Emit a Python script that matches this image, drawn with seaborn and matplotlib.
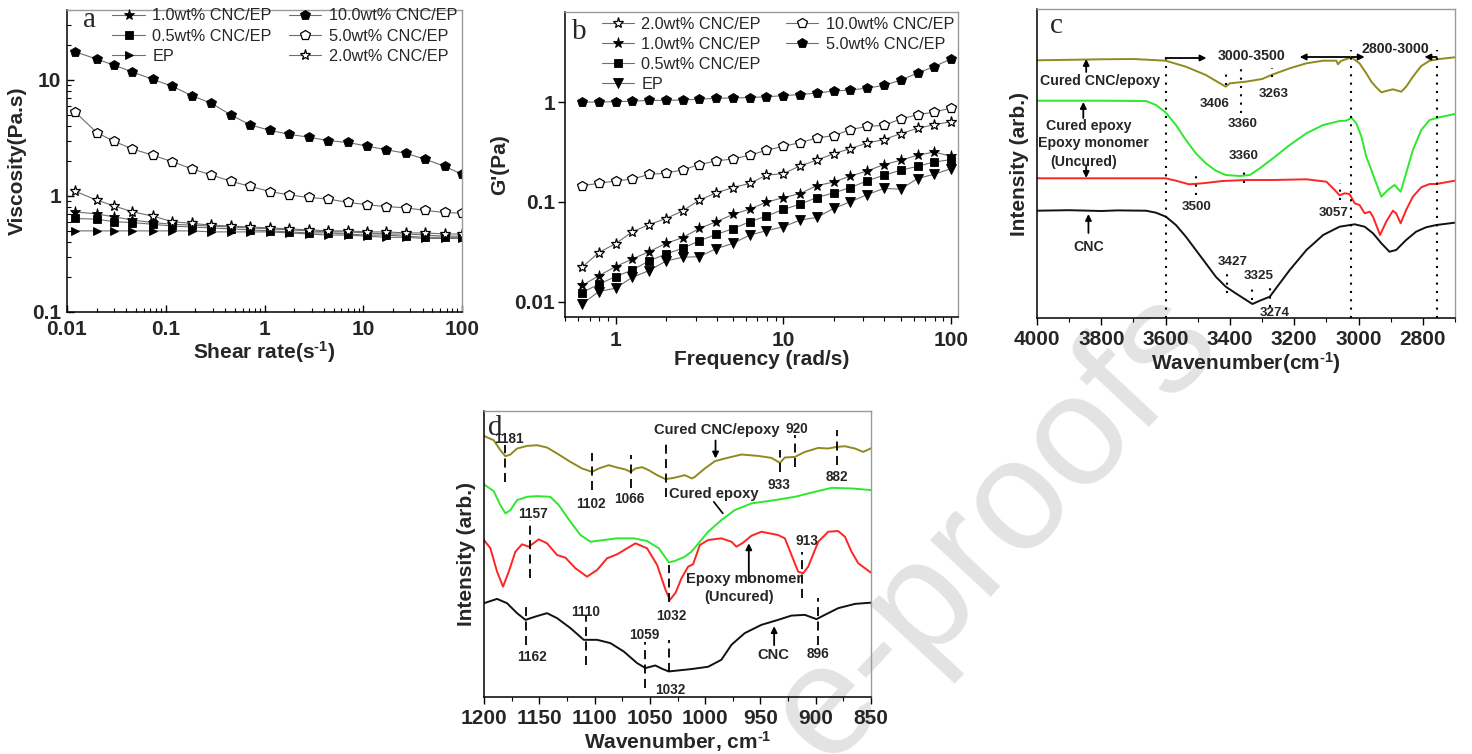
import numpy as np
import pandas as pd
import matplotlib
matplotlib.use("Agg")
import matplotlib.pyplot as plt
import seaborn as sns
from matplotlib.ticker import FixedLocator, NullFormatter, LogLocator, MultipleLocator, FixedFormatter

sns.set_theme(style="ticks")
plt.rcParams["font.family"] = ["Liberation Sans", "DejaVu Sans"]
plt.rcParams["mathtext.fontset"] = "custom"
plt.rcParams["mathtext.bf"] = "Liberation Sans:bold"
plt.rcParams["mathtext.rm"] = "Liberation Sans:bold"
plt.rcParams["mathtext.default"] = "bf"
plt.rcParams["axes.unicode_minus"] = False

# ---------------- Panel a: viscosity vs shear rate ----------------
shear_rate = [0.012, 0.02, 0.03, 0.046, 0.074, 0.117, 0.184, 0.289, 0.454, 0.713, 1.14,
              1.79, 2.81, 4.44, 6.98, 10.9, 17.1, 27.0, 42.5, 66.7, 100]
visc_10 = [17.5, 15.1, 13.4, 11.7, 10.1, 8.8, 7.3, 6.3, 5.0, 4.1, 3.67, 3.39, 3.21, 2.99,
           2.89, 2.69, 2.50, 2.33, 2.07, 1.80, 1.54]
visc_5 = [5.31, 3.52, 2.95, 2.54, 2.24, 1.97, 1.71, 1.52, 1.34, 1.21, 1.09, 1.02, 0.97,
          0.94, 0.88, 0.84, 0.81, 0.79, 0.75, 0.72, 0.71]
visc_2 = [1.10, 0.92, 0.82, 0.73, 0.67, 0.60, 0.58, 0.56, 0.55, 0.54, 0.53, 0.52, 0.51,
          0.50, 0.50, 0.49, 0.49, 0.48, 0.48, 0.47, 0.47]
visc_1 = [0.73, 0.70, 0.66, 0.62, 0.59, 0.57, 0.56, 0.55, 0.54, 0.53, 0.52, 0.51, 0.50,
          0.49, 0.49, 0.48, 0.47, 0.47, 0.46, 0.45, 0.45]
visc_05 = [0.64, 0.63, 0.60, 0.59, 0.57, 0.55, 0.54, 0.53, 0.52, 0.51, 0.50, 0.49, 0.48,
           0.48, 0.47, 0.46, 0.46, 0.45, 0.44, 0.44, 0.44]
visc_ep = [0.50, 0.50, 0.50, 0.50, 0.50, 0.50, 0.50, 0.49, 0.49, 0.49, 0.49, 0.48, 0.47,
           0.46, 0.46, 0.45, 0.44, 0.44, 0.43, 0.43, 0.43]

# ---------------- Panel b: G' vs frequency ----------------
freq = [0.631, 0.794, 1.0, 1.26, 1.58, 2.0, 2.51, 3.16, 3.98, 5.01, 6.31, 7.94, 10.0, 12.6,
        15.8, 20.0, 25.1, 31.6, 39.8, 50.1, 63.1, 79.4, 100.0]
g_5 = [1.0, 1.0, 1.01, 1.02, 1.04, 1.04, 1.05, 1.07, 1.09, 1.10, 1.11, 1.13, 1.16, 1.19,
       1.23, 1.29, 1.32, 1.38, 1.47, 1.66, 1.95, 2.27, 2.71]
g_10 = [0.145, 0.153, 0.162, 0.169, 0.188, 0.194, 0.209, 0.236, 0.257, 0.269, 0.293, 0.329,
        0.360, 0.392, 0.436, 0.461, 0.529, 0.571, 0.584, 0.676, 0.747, 0.794, 0.871]
g_2 = [0.022, 0.031, 0.038, 0.050, 0.059, 0.068, 0.081, 0.104, 0.123, 0.139, 0.153, 0.185,
       0.192, 0.229, 0.261, 0.304, 0.341, 0.389, 0.420, 0.483, 0.545, 0.593, 0.636]
g_1 = [0.0145, 0.0181, 0.0224, 0.0267, 0.0316, 0.0383, 0.0437, 0.0541, 0.0631, 0.0747,
       0.0845, 0.0993, 0.110, 0.121, 0.145, 0.158, 0.181, 0.204, 0.236, 0.261, 0.293, 0.316, 0.286]
g_05 = [0.0123, 0.0149, 0.0178, 0.0207, 0.0255, 0.030, 0.0341, 0.0407, 0.0471, 0.0537,
        0.0631, 0.0719, 0.0838, 0.0948, 0.110, 0.123, 0.139, 0.162, 0.185, 0.207, 0.227, 0.251, 0.265]
g_ep = [0.0094, 0.0126, 0.0136, 0.0175, 0.0204, 0.0255, 0.0278, 0.0282, 0.0339, 0.0383,
        0.0464, 0.0513, 0.0562, 0.0656, 0.0697, 0.0858, 0.100, 0.118, 0.136, 0.134, 0.171, 0.189, 0.215]

# ---------------- Panel c: FTIR 4000-2700 (arb. intensity) ----------------
c_olive_wn = [4000, 3800, 3700, 3600, 3537, 3475, 3413, 3400, 3351, 3300, 3271, 3214, 3162,
              3111, 3069, 3064, 3055, 3022, 2997, 2976, 2960, 2945, 2929, 2914, 2893, 2867,
              2852, 2831, 2805, 2779, 2748, 2701]
c_olive_i = [257.7, 258.7, 259, 257.3, 251.3, 243, 231.3, 234.7, 236.3, 239, 243, 249.7, 254.7,
             257.3, 257.3, 253.7, 257, 260.7, 254.7, 244.7, 236.3, 230.7, 225.7, 227, 228.7,
             226.3, 231.3, 241.3, 252, 257.3, 259, 260.7]
c_green_wn = [4000, 3800, 3661, 3630, 3599, 3568, 3537, 3506, 3475, 3444, 3413, 3369, 3338,
              3307, 3266, 3214, 3162, 3110, 3059, 3038, 3022, 3007, 2991, 2976, 2960, 2945,
              2929, 2909, 2888, 2869, 2852, 2831, 2805, 2779, 2748, 2701]
c_green_i = [217.3, 217.3, 217, 213, 205.3, 193, 178, 164.7, 154.7, 147.3, 143, 142, 143, 149.7,
             159.7, 173, 184.7, 193, 197, 197.3, 200.3, 194.7, 181.3, 161.3, 148, 134.7, 121.3,
             128, 133, 126.3, 144.7, 168, 188, 198, 200.7, 204]
c_red_wn = [4000, 3800, 3600, 3568, 3527, 3485, 3423, 3351, 3266, 3162, 3100, 3074, 3059, 3043,
            3028, 3012, 2997, 2981, 2965, 2955, 2945, 2933, 2914, 2893, 2883, 2869, 2852, 2831,
            2805, 2779, 2758, 2701]
c_red_i = [139.7, 139.7, 139.7, 137.3, 133.7, 134.7, 137, 138, 138, 138.7, 136.3, 128, 122.7,
           124.7, 124, 114.7, 113, 104.7, 106.3, 101.3, 93, 83, 96.3, 107.3, 104.7, 94.7, 108,
           121.3, 130.7, 134, 134, 137.3]
c_black_wn = [4000, 3900, 3800, 3750, 3661, 3630, 3599, 3568, 3537, 3506, 3475, 3444, 3413,
              3382, 3369, 3330, 3307, 3276, 3245, 3214, 3162, 3110, 3059, 3012, 2981, 2955,
              2929, 2904, 2883, 2852, 2821, 2790, 2758, 2701]
c_black_i = [107.3, 107.8, 107.0, 107.6, 107.3, 105.3, 101.3, 93, 81.3, 68, 54.7, 41.3, 31.3,
             24.7, 22, 14, 17.3, 21.3, 34.7, 48, 68, 83, 91.3, 93.7, 91.3, 84.7, 74.7, 66.3,
             68, 78, 86.3, 90.7, 93, 95.3]

# ---------------- Panel d: FTIR 1200-850 (arb. intensity) ----------------
d_olive_wn = [1200, 1191.2, 1185.2, 1180.6, 1176.1, 1170.1, 1161.1, 1152, 1143, 1133.9, 1121.8,
              1111.3, 1102.3, 1096.2, 1087.2, 1079.6, 1072.1, 1067.5, 1063, 1057, 1051, 1043.4,
              1035.8, 1028.3, 1018.4, 1012.0, 1009.3, 1000.3, 991.2, 982.2, 967.1, 952, 940,
              932.4, 927.9, 918.9, 909.8, 897.7, 888.7, 881.1, 873.6, 864.5, 857, 849.3]
d_olive_i = [261.6, 257.3, 247.3, 241.3, 243, 249, 251.6, 252.3, 250, 244, 235.6, 229, 225.6,
             229, 232.3, 230, 228, 225.6, 229, 230.3, 227.3, 222.3, 218.3, 219.6, 222.3, 219.0,
             220.6, 229, 236.3, 239, 243, 241.6, 239.6, 234.6, 240, 240.6, 245.6, 249.6, 249,
             250.6, 251.3, 249, 245.6, 249.6]
d_green_wn = [1200, 1191.2, 1185.2, 1180.6, 1176.1, 1170.1, 1161.1, 1152, 1140, 1132.4, 1121.8,
              1112.8, 1103.7, 1091.7, 1079.6, 1064.5, 1052.5, 1041.9, 1032.9, 1027.4, 1018.4,
              1012.4, 1004.8, 997.3, 985.3, 973.2, 958.1, 937, 918.9, 900.8, 885.7, 867.6, 849.3]
d_green_i = [213, 206.3, 192.3, 184, 187.3, 197.3, 200.6, 201.3, 200.6, 192.3, 175.6, 162.3,
             155.6, 157.3, 159, 159, 156.3, 149, 135, 136.3, 140.6, 145.6, 155.6, 165.6, 177.3,
             187.3, 194, 197.3, 200.6, 205.6, 209.6, 209, 207.3]
d_red_wn = [1200, 1194.2, 1188.2, 1182.8, 1177.6, 1171.6, 1165.6, 1159.5, 1150.5, 1143, 1133.9,
            1126.3, 1117.3, 1106.8, 1097.7, 1088.7, 1079.6, 1070.6, 1063, 1052.5, 1043.4,
            1035.8, 1031.9, 1026.8, 1021.4, 1015.4, 1010.9, 1004.8, 997.3, 985.3, 976.2, 971.7,
            965.7, 958.1, 949.1, 934, 927.9, 921.9, 915.9, 911.4, 906.8, 897.7, 888.7, 879.7,
            873.6, 867.6, 861.5, 849.3]
d_red_i = [157.3, 149, 125.6, 110.6, 125.6, 145.6, 153, 150.6, 158, 154, 142.3, 139.6, 129,
           120.6, 127.3, 139, 143, 149, 154, 149, 132.3, 107.3, 97.3, 104.3, 119, 130.6, 133,
           152.3, 157.3, 159, 155.6, 150.6, 154.6, 161.6, 165.6, 162.3, 159, 142.3, 125.6, 124,
           130.6, 155.6, 165.6, 166.3, 160.6, 145.6, 134, 124]
d_black_wn = [1200, 1188.2, 1179.2, 1170.1, 1162.5, 1153.5, 1143, 1133.9, 1121.8, 1109.8,
              1097.7, 1085.7, 1073.6, 1061.6, 1054, 1045, 1039, 1032.9, 1012.4, 997.3, 985.3,
              976.2, 964.2, 949.1, 934, 921.9, 909.8, 899.3, 891.8, 879.7, 864.5, 849.3]
d_black_i = [94, 98.3, 94, 84, 77.3, 80.6, 84, 79, 69, 57.3, 57.3, 54, 45.6, 34, 29, 31.6, 28.3,
             25.6, 28, 30.3, 37.3, 52.3, 64, 72.3, 77.3, 81.6, 82.3, 78, 82.3, 89, 93.3, 94.6]

OLIVE = "#8f8a1f"
GREEN = "#2ee82e"
RED = "#ff2424"
BLACK = "#111111"

W, H = 1472, 754
fig = plt.figure(figsize=(W / 100, H / 100), dpi=100)


def axes_px(left, top, right, bottom):
    return fig.add_axes([left / W, 1 - bottom / H, (right - left) / W, (bottom - top) / H])


ax_a = axes_px(67, 10, 462, 312)
ax_b = axes_px(565, 12, 958, 317)
ax_c = axes_px(1037, 9, 1455, 318)
ax_d = axes_px(484, 411, 871, 697)

for ax in (ax_a, ax_b, ax_c, ax_d):
    ax.set_facecolor("none")
    for s in ("left", "bottom"):
        ax.spines[s].set_color("black")
        ax.spines[s].set_linewidth(1.1)
    for s in ("top", "right"):
        ax.spines[s].set_color("#9a9a9a")
        ax.spines[s].set_linewidth(1.0)
        ax.spines[s].set_visible(True)

TICKFS = 15
LABFS = 15
bold = dict(fontweight="bold")
SUP = r"$^{\text{-1}}$"


def rheo(ax, x, y, marker, filled, label, ms=6.5):
    sns.lineplot(x=x, y=y, ax=ax, color="#6e6e6e", lw=0.8, marker=marker, markersize=ms,
                 markerfacecolor="black" if filled else "white", markeredgecolor="black",
                 markeredgewidth=0.6 if filled else 0.9, estimator=None, sort=False,
                 label=label)


# ---- panel a ----
rheo(ax_a, shear_rate, visc_1, "*", True, "1.0wt% CNC/EP", 8)
rheo(ax_a, shear_rate, visc_05, "s", True, "0.5wt% CNC/EP", 5.5)
rheo(ax_a, shear_rate, visc_ep, ">", True, "EP", 6)
rheo(ax_a, shear_rate, visc_10, "p", True, "10.0wt% CNC/EP", 7)
rheo(ax_a, shear_rate, visc_5, "p", False, "5.0wt% CNC/EP", 7)
rheo(ax_a, shear_rate, visc_2, "*", False, "2.0wt% CNC/EP", 8)
ax_a.set_xscale("log")
ax_a.set_yscale("log")
ax_a.set_xlim(0.01, 100)
ax_a.set_ylim(0.1, 40)
ax_a.xaxis.set_major_locator(FixedLocator([0.01, 0.1, 1, 10, 100]))
ax_a.xaxis.set_major_formatter(FixedFormatter(["0.01", "0.1", "1", "10", "100"]))
ax_a.yaxis.set_major_locator(FixedLocator([0.1, 1, 10]))
ax_a.yaxis.set_major_formatter(FixedFormatter(["0.1", "1", "10"]))
for axis in (ax_a.xaxis, ax_a.yaxis):
    axis.set_minor_locator(LogLocator(base=10, subs=np.arange(2, 10), numticks=20))
    axis.set_minor_formatter(NullFormatter())
ax_a.tick_params(which="both", direction="in", color="black")
ax_a.tick_params(which="major", length=5, width=1)
ax_a.tick_params(which="minor", length=3, width=0.8)
ax_a.tick_params(axis="x", which="major", pad=6)
ax_a.tick_params(axis="y", which="major", pad=4)
ax_a.set_xlabel("Shear rate(s" + SUP + ")", fontsize=LABFS, **bold, labelpad=0)
ax_a.set_ylabel("Viscosity(Pa.s)", fontsize=LABFS, **bold, labelpad=4)
ax_a.text(0.040, 0.943, "a", transform=ax_a.transAxes, fontsize=21,
          family="Liberation Serif", ha="left", va="baseline")

# ---- panel b ----
rheo(ax_b, freq, g_2, "*", False, "2.0wt% CNC/EP", 8)
rheo(ax_b, freq, g_1, "*", True, "1.0wt% CNC/EP", 8)
rheo(ax_b, freq, g_05, "s", True, "0.5wt% CNC/EP", 5.5)
rheo(ax_b, freq, g_ep, "v", True, "EP", 6.5)
rheo(ax_b, freq, g_10, "p", False, "10.0wt% CNC/EP", 7)
rheo(ax_b, freq, g_5, "p", True, "5.0wt% CNC/EP", 7)
ax_b.set_xscale("log")
ax_b.set_yscale("log")
ax_b.set_xlim(0.5, 110)
ax_b.set_ylim(0.007, 8)
ax_b.xaxis.set_major_locator(FixedLocator([1, 10, 100]))
ax_b.xaxis.set_major_formatter(FixedFormatter(["1", "10", "100"]))
ax_b.xaxis.set_minor_locator(LogLocator(base=10, subs=np.arange(2, 10), numticks=20))
ax_b.xaxis.set_minor_formatter(NullFormatter())
ax_b.yaxis.set_major_locator(FixedLocator([0.01, 0.1, 1]))
ax_b.yaxis.set_major_formatter(FixedFormatter(["0.01", "0.1", "1"]))
ax_b.yaxis.set_minor_locator(FixedLocator([]))
ax_b.tick_params(which="both", direction="out", color="black")
ax_b.tick_params(which="major", length=5, width=1)
ax_b.tick_params(which="minor", length=3, width=0.8)
ax_b.tick_params(axis="x", which="major", pad=5)
ax_b.tick_params(axis="y", which="major", pad=2)
ax_b.set_xlabel("Frequency (rad/s)", fontsize=LABFS, **bold, labelpad=0)
ax_b.set_ylabel("G'(Pa)", fontsize=LABFS, **bold, labelpad=4)
ax_b.text(0.017, 0.910, "b", transform=ax_b.transAxes, fontsize=21,
          family="Liberation Serif", ha="left", va="baseline")

for ax in (ax_a, ax_b):
    for t in ax.get_xticklabels() + ax.get_yticklabels():
        t.set_fontsize(TICKFS)
        t.set_fontweight("bold")


def two_legends(ax, n1, x1, x2, ytop):
    handles, labels = ax.get_legend_handles_labels()
    if ax.get_legend() is not None:
        ax.get_legend().remove()
    common = dict(frameon=False, handlelength=2.0, handletextpad=0.45,
                  labelspacing=0.32, borderpad=0, borderaxespad=0, loc="upper left",
                  prop={"family": "Liberation Sans", "size": 11.7})
    l1 = ax.legend(handles[:n1], labels[:n1], bbox_to_anchor=(x1, ytop), **common)
    ax.add_artist(l1)
    ax.legend(handles[n1:], labels[n1:], bbox_to_anchor=(x2, ytop), **common)


two_legends(ax_a, 3, 0.115, 0.562, 1.005)
two_legends(ax_b, 4, 0.093, 0.562, 0.985)

# ---- panel c ----
for wn, inten, col in ((c_olive_wn, c_olive_i, OLIVE), (c_green_wn, c_green_i, GREEN),
                       (c_red_wn, c_red_i, RED), (c_black_wn, c_black_i, BLACK)):
    sns.lineplot(x=wn, y=inten, ax=ax_c, color=col, lw=1.4, estimator=None, sort=False)
ax_c.set_xlim(4000, 2700)
ax_c.set_ylim(0, 309)
ax_c.xaxis.set_major_locator(MultipleLocator(200))
ax_c.xaxis.set_minor_locator(MultipleLocator(100))
ax_c.set_yticks([])
ax_c.tick_params(axis="x", which="both", direction="out", color="black")
ax_c.tick_params(axis="x", which="major", length=5, width=1, labelsize=TICKFS)
ax_c.tick_params(axis="x", which="minor", length=3, width=0.8)
for t in ax_c.get_xticklabels():
    t.set_fontweight("bold")
ax_c.set_xlabel("Wavenumber(cm" + SUP + ")", fontsize=LABFS, **bold, labelpad=1)
ax_c.set_ylabel("Intensity (arb.)", fontsize=LABFS, **bold, labelpad=6)
ax_c.text(0.031, 0.921, "c", transform=ax_c.transAxes, fontsize=21,
          family="Liberation Serif", ha="left", va="baseline")

dot = (0, (1, 3))
for xv, ytop in ((3600, 263), (3022, 268), (2757, 268)):
    ax_c.vlines(xv, 0, ytop, colors="black", linestyles=[dot], lw=1.5)
for xv, y0, y1 in ((3411, 233, 246), (3367, 205, 250), (3268, 241, 250), (3356, 135, 148),
                   (3504, 123, 146), (3059, 118, 135), (3409, 25, 45), (3331, 18, 31),
                   (3274, 11, 31)):
    ax_c.vlines(xv, y0, y1, colors="black", linestyles=[dot], lw=1.5)

arrow_kw = dict(arrowstyle="-|>", color="black", lw=1.3, mutation_scale=9,
                shrinkA=0, shrinkB=0)
for tail, head in (((3600, 260), (3473, 260)), ((3027, 261), (3183, 261)),
                   ((3022, 261), (2981, 261)), ((2757, 261), (2795, 261)),
                   ((3847, 246), (3847, 259)), ((3856, 200), (3856, 216)),
                   ((3847, 152), (3847, 140)), ((3840, 85), (3840, 104))):
    ax_c.annotate("", xy=head, xytext=tail, arrowprops=arrow_kw)

cfs = 10.2
for txt, x, y in (("3000-3500", 3333, 262), ("2800-3000", 2885, 269),
                  ("Cured CNC/epoxy", 3804, 237), ("Cured epoxy", 3840, 192),
                  ("Epoxy monomer", 3825, 175), ("(Uncured)", 3856, 156), ("CNC", 3840, 71)):
    ax_c.text(x, y, txt, fontsize=cfs, fontweight="bold", ha="center", va="center")
for txt, x, y in (("3406", 3447, 214), ("3263", 3263, 224), ("3360", 3361, 194),
                  ("3360", 3356, 162), ("3500", 3504, 111), ("3057", 3076, 105),
                  ("3427", 3392, 56), ("3325", 3310, 42), ("3274", 3261, 5)):
    ax_c.text(x, y, txt, fontsize=9.6, fontweight="bold", ha="center", va="center")

# ---- panel d ----
for wn, inten, col in ((d_olive_wn, d_olive_i, OLIVE), (d_green_wn, d_green_i, GREEN),
                       (d_red_wn, d_red_i, RED), (d_black_wn, d_black_i, BLACK)):
    sns.lineplot(x=wn, y=inten, ax=ax_d, color=col, lw=1.4, estimator=None, sort=False)
ax_d.set_xlim(1200, 850)
ax_d.set_ylim(0, 286.6)
ax_d.xaxis.set_major_locator(MultipleLocator(50))
ax_d.xaxis.set_minor_locator(MultipleLocator(25))
ax_d.set_yticks([])
ax_d.tick_params(axis="x", which="both", direction="out", color="black")
ax_d.tick_params(axis="x", which="major", length=5, width=1, labelsize=TICKFS)
ax_d.tick_params(axis="x", which="minor", length=3, width=0.8)
for t in ax_d.get_xticklabels():
    t.set_fontweight("bold")
ax_d.set_xlabel("Wavenumber, cm" + SUP, fontsize=LABFS, **bold, labelpad=1)
ax_d.set_ylabel("Intensity (arb.)", fontsize=LABFS, **bold, labelpad=6)
ax_d.text(0.010, 0.915, "d", transform=ax_d.transAxes, fontsize=21,
          family="Liberation Serif", ha="left", va="baseline")

dash = (0, (5, 3))
for xv, y0, y1 in ((1180.6, 215.6, 252.3), (1102.3, 207.3, 244.3), (1067.5, 209.3, 242.3),
                   (1035, 200, 257), (932.4, 225.6, 247.3), (918.3, 230.6, 262.3),
                   (881.1, 232.3, 267.3), (1158.6, 119.3, 177.3), (1032.9, 95.3, 132.3),
                   (912.8, 99, 145.6), (1161.6, 52.3, 95.3), (1108.2, 32.3, 82.3),
                   (1054, 9, 55.6), (1032.9, 25.3, 57.3), (898.3, 52.3, 99.3)):
    ax_d.vlines(xv, y0, y1, colors="black", linestyles=[dash], lw=1.3)

for tail, head in (((990.6, 257), (990.6, 239)), ((960.5, 116), (960.5, 154)),
                   ((937.6, 52), (937.6, 71))):
    ax_d.annotate("", xy=head, xytext=tail, arrowprops=arrow_kw)
ax_d.annotate("", xy=(984, 184), xytext=(992.2, 195.6),
              arrowprops=dict(arrowstyle="-", color="black", lw=1.2, shrinkA=0, shrinkB=0))

for txt, x, y in (("Cured CNC/epoxy", 989.7, 268), ("Cured epoxy", 992, 203),
                  ("Epoxy monomer", 965, 118), ("(Uncured)", 969.5, 100.6), ("CNC", 938.5, 42)):
    ax_d.text(x, y, txt, fontsize=10.6, fontweight="bold", ha="center", va="center")
for txt, x, y in (("1181", 1177.6, 259), ("1102", 1103.7, 193), ("1066", 1069, 198.3),
                  ("920", 917, 268.3), ("933", 933, 212.3), ("882", 881, 220.6),
                  ("1157", 1156, 183), ("913", 908, 156.3), ("1032", 1030.9, 81.6),
                  ("1110", 1108, 85), ("1162", 1156.6, 39.6), ("1059", 1055, 62.3),
                  ("1032", 1032, 7.3), ("896", 898, 43)):
    ax_d.text(x, y, txt, fontsize=9.8, fontweight="bold", ha="center", va="center")

# watermark
fig.text(995 / W, 1 - 527 / H, "e-proofs", rotation=47, fontsize=114, color="#e3e3e3",
         ha="center", va="center", zorder=-1, family="Liberation Sans")

fig.savefig("out.png", dpi=100)
